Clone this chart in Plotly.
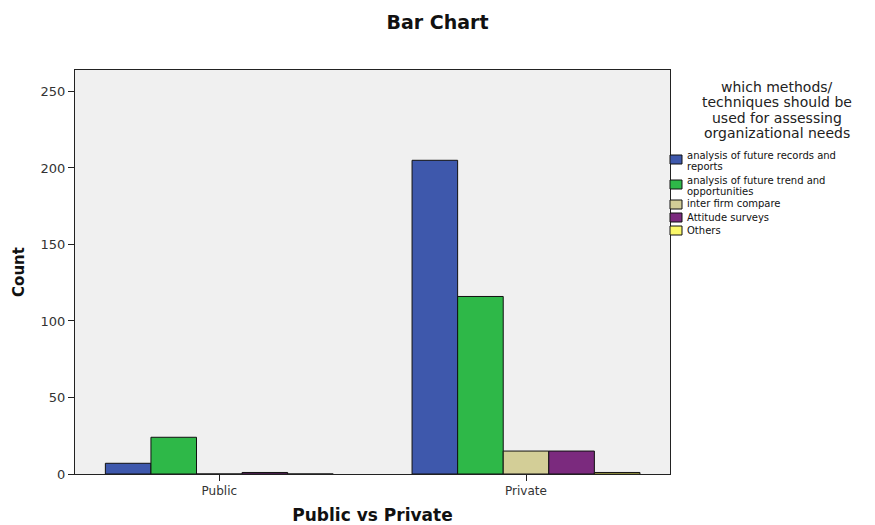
import plotly.graph_objects as go

# Survey counts by sector and preferred method
sectors = ["Public", "Private"]
methods = [
    "analysis of future records and<br>reports",
    "analysis of future trend and<br>opportunities",
    "inter firm compare",
    "Attitude surveys",
    "Others",
]
counts = [
    [7, 205],    # analysis of future records and reports
    [24, 116],   # analysis of future trend and opportunities
    [0, 15],     # inter firm compare
    [1, 15],     # Attitude surveys
    [0, 1],      # Others
]
colors = ["#3E58AC", "#2EB848", "#D3CE97", "#7B2A7E", "#FBF869"]
y_ticks = [0, 50, 100, 150, 200, 250]
legend_title = ["which methods/", "techniques should be",
                "used for assessing", "organizational needs"]

W, H = 875, 525
L, R, T, B = 75, 205, 70, 51
pw, ph = W - L - R, H - T - B


def px_x(x):
    return (x - L) / pw


def px_y(y):
    return (H - B - y) / ph


fig = go.Figure()
for name, vals, col in zip(methods, counts, colors):
    fig.add_trace(go.Bar(
        x=sectors, y=vals, name=name.replace("<br>", " "), showlegend=False,
        marker=dict(color=col, line=dict(color="#111111", width=1)),
    ))

FONT = "DejaVu Sans, Verdana, sans-serif"

# Legend drawn as swatches and labels beside the plot
shapes, annots = [], []
for i, line in enumerate(legend_title):
    annots.append(dict(
        text=line, xref="paper", yref="paper",
        x=px_x(777), y=px_y(86.5 + 15.5 * i), xanchor="center", yanchor="middle",
        showarrow=False, font=dict(family=FONT, size=14, color="#222222"),
    ))

swatch_top = [155, 180, 200, 213, 226]
label_rows = [[155.5, 166.5], [180, 191], [204], [217], [230]]
for name, col, top, rows in zip(methods, colors, swatch_top, label_rows):
    shapes.append(dict(
        type="rect", xref="paper", yref="paper",
        x0=px_x(670), x1=px_x(682), y0=px_y(top), y1=px_y(top + 9),
        fillcolor=col, line=dict(color="#111111", width=1), layer="above",
    ))
    for part, yc in zip(name.split("<br>"), rows):
        annots.append(dict(
            text=part, xref="paper", yref="paper",
            x=px_x(685), y=px_y(yc),
            xanchor="left", yanchor="middle", showarrow=False,
            font=dict(family=FONT, size=10, color="#111111"),
        ))

fig.update_layout(
    width=W, height=H,
    margin=dict(l=L, r=R, t=T, b=B),
    paper_bgcolor="white",
    plot_bgcolor="#F0F0F0",
    barmode="group",
    bargap=0.257,
    bargroupgap=0,
    showlegend=False,
    font=dict(family=FONT, size=12, color="#333333"),
    title=dict(
        text="<b>Bar Chart</b>", x=0.5, xref="container", xanchor="center",
        y=1 - 22 / H, yref="container", yanchor="middle",
        font=dict(family=FONT, size=19, color="#111111"),
    ),
    xaxis=dict(
        type="category", range=[-0.4705, 1.4695], automargin=False,
        showline=True, linecolor="#222222", linewidth=1, mirror=True,
        ticks="outside", ticklen=6, tickcolor="#222222",
        showgrid=False, zeroline=False,
        tickfont=dict(family=FONT, size=12, color="#333333"),
        title=dict(text="<b>Public vs Private</b>", standoff=19,
                   font=dict(family=FONT, size=17, color="#111111")),
    ),
    yaxis=dict(
        range=[0, 264], tickvals=y_ticks, automargin=False,
        showline=True, linecolor="#222222", linewidth=1, mirror=True,
        ticks="outside", ticklen=6, tickcolor="#222222",
        showgrid=False, zeroline=False,
        tickfont=dict(family=FONT, size=13, color="#333333"),
        title=dict(text="<b>Count</b>", standoff=12,
                   font=dict(family=FONT, size=15, color="#111111")),
    ),
    shapes=shapes,
    annotations=annots,
)

fig.write_html("out.html")
